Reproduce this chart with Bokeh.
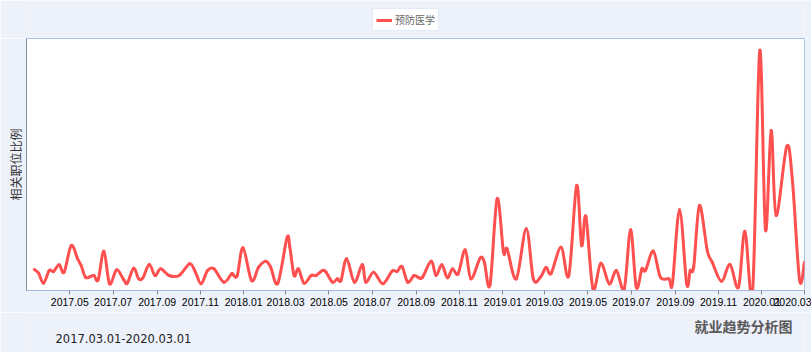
import numpy as np
import pandas as pd
from bokeh.plotting import figure
from bokeh.layouts import column
from bokeh.models import (Range1d, FixedTicker, DatetimeTickFormatter, Legend,
                          LegendItem, Label, ColumnDataSource)
from bokeh.embed import file_html
from bokeh.resources import INLINE

series_name = "预防医学"
y_label = "相关职位比例"
period_text = "2017.03.01-2020.03.01"
chart_title = "就业趋势分析图"

dates = [
    "2017-03-12", "2017-03-18", "2017-03-25", "2017-04-02", "2017-04-08", "2017-04-16",
    "2017-04-23", "2017-05-03", "2017-05-12", "2017-05-17", "2017-05-23", "2017-05-30",
    "2017-06-04", "2017-06-10", "2017-06-18", "2017-06-26", "2017-07-06", "2017-07-16",
    "2017-07-21", "2017-07-30", "2017-08-06", "2017-08-12", "2017-08-21", "2017-08-29",
    "2017-09-06", "2017-09-18", "2017-10-02", "2017-10-17", "2017-10-25", "2017-11-02",
    "2017-11-11", "2017-11-20", "2017-12-04", "2017-12-15", "2017-12-18", "2017-12-23",
    "2017-12-31", "2018-01-12", "2018-01-22", "2018-02-01", "2018-02-08", "2018-02-18",
    "2018-03-03", "2018-03-07", "2018-03-13", "2018-03-19", "2018-03-27", "2018-04-06",
    "2018-04-13", "2018-04-22", "2018-04-27", "2018-05-06", "2018-05-13", "2018-05-18",
    "2018-05-26", "2018-06-06", "2018-06-17", "2018-06-22", "2018-07-03", "2018-07-16",
    "2018-07-29", "2018-08-05", "2018-08-12", "2018-08-20", "2018-08-29", "2018-09-05",
    "2018-09-10", "2018-09-22", "2018-09-29", "2018-10-07", "2018-10-15", "2018-10-22",
    "2018-10-30", "2018-11-09", "2018-11-17", "2018-11-30", "2018-12-06", "2018-12-14",
    "2018-12-24", "2019-01-02", "2019-01-07", "2019-01-20", "2019-02-03", "2019-02-13",
    "2019-02-23", "2019-03-03", "2019-03-10", "2019-03-24", "2019-04-04", "2019-04-15",
    "2019-04-22", "2019-04-28", "2019-05-08", "2019-05-19", "2019-05-31", "2019-06-10",
    "2019-06-21", "2019-06-30", "2019-07-08", "2019-07-16", "2019-07-21", "2019-08-01",
    "2019-08-11", "2019-08-23", "2019-08-28", "2019-09-07", "2019-09-17", "2019-09-22",
    "2019-09-27", "2019-10-05", "2019-10-16", "2019-10-23", "2019-11-05", "2019-11-17",
    "2019-11-29", "2019-12-08", "2019-12-19", "2019-12-29", "2020-01-06", "2020-01-14",
    "2020-01-21", "2020-02-05", "2020-02-13", "2020-02-23", "2020-03-01",
]
values = [
    2.00, 1.63, 0.63, 1.90, 1.80, 2.47,
    1.73, 4.40, 3.07, 2.40, 1.23, 1.30,
    1.40, 0.97, 3.83, 0.57, 1.97, 0.97,
    0.63, 2.13, 1.07, 1.17, 2.50, 1.40,
    2.07, 1.40, 1.40, 2.57, 1.73, 0.57,
    1.90, 2.07, 0.73, 1.57, 1.40, 1.40,
    4.17, 0.90, 2.23, 2.83, 2.23, 0.63,
    5.17, 4.23, 1.40, 2.07, 0.63, 1.40,
    1.40, 1.90, 1.73, 0.73, 1.07, 0.90,
    3.07, 0.73, 2.50, 0.73, 1.73, 0.57,
    1.83, 1.80, 2.30, 0.73, 1.40, 1.17,
    1.23, 2.83, 1.40, 2.47, 1.17, 2.07,
    1.57, 3.97, 1.07, 3.13, 2.73, 0.47,
    9.07, 3.73, 4.07, 1.07, 6.07, 1.07,
    1.23, 2.20, 1.60, 4.23, 1.40, 10.40,
    4.40, 7.30, 0.07, 2.63, 0.57, 1.90,
    0.07, 5.97, 0.23, 2.07, 1.90, 3.83,
    1.23, 1.07, 0.63, 7.97, 0.57, 1.90,
    2.30, 8.40, 3.90, 2.73, 0.83, 2.50,
    0.23, 5.83, 0.00, 23.90, 5.97, 15.90,
    7.40, 14.30, 10.90, 0.97, 2.73,
]
tick_dates = ["2017-05-01", "2017-07-01", "2017-09-01", "2017-11-01", "2018-01-01",
              "2018-03-01", "2018-05-01", "2018-07-01", "2018-09-01", "2018-11-01",
              "2019-01-01", "2019-03-01", "2019-05-01", "2019-07-01", "2019-09-01",
              "2019-11-01", "2020-01-01", "2020-03-01"]
x_start, x_end = "2017-03-01", "2020-03-01"

BG = "#edf1fa"
LINE_COLOR = "#ff5050"

# spline rendering (curve passes through every data point, like a spline renderer)
xs = pd.to_datetime(dates).values.astype("datetime64[ms]").astype(np.float64)
ys = np.asarray(values, dtype=float)
xp = np.concatenate([[xs[0]], xs, [xs[-1]]])
yp = np.concatenate([[ys[0]], ys, [ys[-1]]])
k = 1.0 / 6.0
seg = dict(
    x0=xs[:-1], y0=ys[:-1], x1=xs[1:], y1=ys[1:],
    cx0=xs[:-1] + (xp[2:-1] - xp[:-3]) * k, cy0=ys[:-1] + (yp[2:-1] - yp[:-3]) * k,
    cx1=xs[1:] - (xp[3:] - xp[1:-2]) * k, cy1=ys[1:] - (yp[3:] - yp[1:-2]) * k,
)
src_curve = ColumnDataSource(seg)
src = ColumnDataSource(dict(x=pd.to_datetime(dates), y=values))


def blank_fig(h):
    f = figure(width=811, height=h, output_backend="svg", toolbar_location=None,
               x_range=Range1d(0, 1), y_range=Range1d(0, 1),
               x_axis_location=None, y_axis_location=None,
               min_border_left=26, min_border_right=7,
               min_border_top=0, min_border_bottom=0)
    f.background_fill_color = BG
    f.border_fill_color = BG
    f.outline_line_color = None
    f.grid.visible = False
    return f


# ---- top strip with legend (frame aligned with main chart frame: x 26..804)
p_top = blank_fig(38)
leg_r = p_top.line("x", "y", source=src, line_color=LINE_COLOR, line_width=3)
legend = Legend(items=[LegendItem(label=series_name, renderers=[leg_r])],
                location=(346, 7), orientation="horizontal")
legend.label_text_font = "Noto Sans CJK SC"
legend.label_text_font_size = "10px"
legend.label_text_color = "#666666"
legend.glyph_width = 16
legend.glyph_height = 12
legend.label_height = 12
legend.label_standoff = 3
legend.padding = 3
legend.margin = 0
legend.border_line_color = "#c4d6f0"
legend.background_fill_color = "white"
legend.background_fill_alpha = 1
p_top.add_layout(legend)

# ---- main chart
p = figure(width=811, height=274, x_axis_type="datetime", output_backend="svg",
           toolbar_location=None,
           x_range=Range1d(pd.Timestamp(x_start), pd.Timestamp(x_end)),
           y_range=Range1d(-0.1, 25.1),
           min_border_left=26, min_border_right=7, min_border_top=0,
           min_border_bottom=22)
p.background_fill_color = "white"
p.border_fill_color = BG
p.outline_line_color = "#a9c3ea"
p.outline_line_width = 1
p.grid.visible = False

p.bezier(x0="x0", y0="y0", x1="x1", y1="y1", cx0="cx0", cy0="cy0",
         cx1="cx1", cy1="cy1", source=src_curve, line_color=LINE_COLOR,
         line_width=3, line_cap="round")

tick_ms = [pd.Timestamp(t).value / 1e6 for t in tick_dates]
xa = p.xaxis[0]
xa.ticker = FixedTicker(ticks=tick_ms)
fmt = "%Y.%m"
xa.formatter = DatetimeTickFormatter(years=fmt, months=fmt, days=fmt, hours=fmt,
                                     minutes=fmt, seconds=fmt, milliseconds=fmt,
                                     microseconds=fmt, hourmin=fmt, minsec=fmt)
xa.major_label_text_font = "Liberation Sans"
xa.major_label_text_font_size = "10.5px"
xa.major_label_text_color = "#000000"
xa.major_tick_out = 4
xa.major_tick_in = 0
xa.minor_tick_out = 0
xa.minor_tick_in = 0
xa.major_tick_line_color = "#888888"
xa.axis_line_color = "#9fb8de"
xa.major_label_standoff = 3

ya = p.yaxis[0]
ya.ticker = FixedTicker(ticks=[])
ya.axis_label = y_label
ya.axis_label_text_font = "Noto Sans CJK SC"
ya.axis_label_text_font_size = "12px"
ya.axis_label_text_font_style = "normal"
ya.axis_label_text_color = "#333333"
ya.axis_label_standoff = 3
ya.major_tick_out = 0
ya.major_tick_in = 0
ya.minor_tick_out = 0
ya.minor_tick_in = 0
ya.major_label_standoff = 0
ya.axis_line_color = "#8a8f98"

# ---- bottom strip with captions
p_bot = blank_fig(40)
p_bot.add_layout(Label(x=29, y=14, x_units="screen", y_units="screen", text=period_text,
                       text_font="DejaVu Sans", text_font_size="11.5px",
                       text_color="#222222", text_baseline="middle"))
p_bot.add_layout(Label(x=766, y=27, x_units="screen", y_units="screen", text=chart_title,
                       text_font="Noto Sans CJK SC", text_font_size="14px",
                       text_font_style="bold", text_color="#5a5a5a",
                       text_baseline="middle", text_align="right"))

layout = column(p_top, p, p_bot, spacing=0)
open("out.html", "w").write(file_html(layout, INLINE))
